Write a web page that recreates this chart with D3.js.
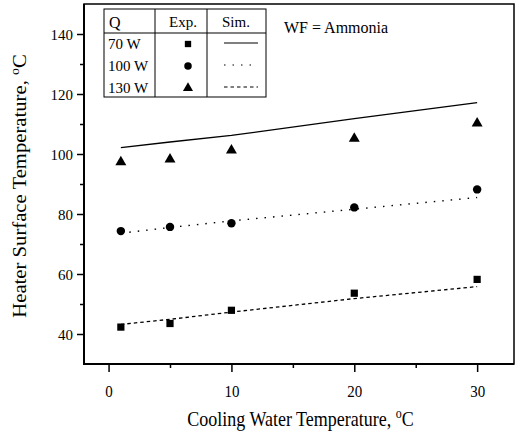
<!DOCTYPE html>
<html>
<head>
<meta charset="utf-8">
<script src="https://cdn.jsdelivr.net/npm/d3@7"></script>
<style>
  html, body { margin: 0; padding: 0; background: #fff; }
  svg { display: block; }
  text { font-family: "Liberation Serif", "Times New Roman", serif; fill: #000; }
</style>
</head>
<body>
<svg id="chart" width="516" height="435"></svg>
<script>
// ---- data ----
const coolingTemps = [1, 5, 10, 20, 30];
const exp70 = [42.3, 43.5, 47.9, 53.6, 58.2];
const exp100 = [74.3, 75.7, 76.9, 82.2, 88.2];
const exp130 = [97.3, 98.2, 101.2, 105.1, 110.2];
const simSolid = [102.1, 104.0, 106.2, 111.8, 117.1];
const simDotted = [73.6, 75.5, 77.7, 81.6, 85.5];
const simDashed = [43.2, 44.9, 47.3, 51.8, 55.8];
const xTicks = [0, 10, 20, 30];
const xMinorTicks = [5, 15, 25];
const yTicks = [40, 60, 80, 100, 120, 140];
const yMinorTicks = [50, 70, 90, 110, 130];
const legendRows = ["70 W", "100 W", "130 W"];

const svg = d3.select("#chart");
const pL = 84, pR = 514, pT = 4, pB = 364;
const x = d3.scaleLinear().domain([-2, 33]).range([pL, pR]);
const y = d3.scaleLinear().domain([30, 150]).range([pB, pT]);

// axes
const xAxis = svg.append("g").attr("transform", `translate(0,${pB})`)
  .call(d3.axisBottom(x).tickValues(xTicks).tickSize(8).tickFormat(d3.format("d")));
const xMinor = svg.append("g").attr("transform", `translate(0,${pB})`)
  .call(d3.axisBottom(x).tickValues(xMinorTicks).tickSize(4).tickFormat(""));
const yAxis = svg.append("g").attr("transform", `translate(${pL},0)`)
  .call(d3.axisLeft(y).tickValues(yTicks).tickSize(7).tickFormat(d3.format("d")));
const yMinor = svg.append("g").attr("transform", `translate(${pL},0)`)
  .call(d3.axisLeft(y).tickValues(yMinorTicks).tickSize(4).tickFormat(""));
[xAxis, xMinor, yAxis, yMinor].forEach(g => {
  g.select(".domain").remove();
  g.selectAll(".tick line").attr("stroke", "#000").attr("stroke-width", 1.5);
  g.selectAll(".tick text").style("font-family", "Liberation Serif").style("font-size", "15px").attr("fill", "#000");
});
xAxis.selectAll(".tick text").attr("y", null).attr("dy", null)
  .attr("transform", "translate(0,33) scale(1,1.12)");
yAxis.selectAll(".tick text").attr("x", null).attr("dy", null)
  .attr("transform", "translate(-11,5) scale(1,1.03)");

// frame
svg.append("rect").attr("x", pL).attr("y", pT).attr("width", pR - pL).attr("height", pB - pT)
  .attr("fill", "none").attr("stroke", "#000").attr("stroke-width", 1.5);
svg.append("line").attr("x1", pL).attr("x2", pL).attr("y1", pT).attr("y2", pB + 1)
  .attr("stroke", "#000").attr("stroke-width", 2);
svg.append("line").attr("x1", pL - 1).attr("x2", pR).attr("y1", pB).attr("y2", pB)
  .attr("stroke", "#000").attr("stroke-width", 2);

// sim lines
const line = d3.line().x((d, i) => x(coolingTemps[i])).y(d => y(d));
svg.append("path").datum(simSolid).attr("d", line).attr("fill", "none").attr("stroke", "#000").attr("stroke-width", 1.3);
svg.append("path").datum(simDotted).attr("d", line).attr("fill", "none").attr("stroke", "#000").attr("stroke-width", 1.4).attr("stroke-dasharray", "1.5,7");
svg.append("path").datum(simDashed).attr("d", line).attr("fill", "none").attr("stroke", "#000").attr("stroke-width", 1.3).attr("stroke-dasharray", "3.5,3");

// markers
const sq = d3.symbol().type(d3.symbolSquare).size(52);
const ci = d3.symbol().type(d3.symbolCircle).size(56);
const tr = d3.symbol().type(d3.symbolTriangle).size(52);
function markers(vals, sym) {
  svg.append("g").selectAll("path").data(vals).join("path")
    .attr("transform", (d, i) => `translate(${x(coolingTemps[i])},${y(d)})`)
    .attr("d", sym).attr("fill", "#000");
}
markers(exp70, sq);
markers(exp100, ci);
markers(exp130, tr);

// axis titles
const xt = svg.append("text").attr("transform", "translate(300.5,426) scale(1,1.15)").attr("text-anchor", "middle")
  .style("font-size", "18px");
xt.append("tspan").text("Cooling Water Temperature, ");
xt.append("tspan").text("o").attr("dy", -7).style("font-size", "12px");
xt.append("tspan").text("C").attr("dy", 7);

const yt = svg.append("text").attr("transform", "translate(26,186) rotate(-90) scale(1.15,1)").attr("text-anchor", "middle")
  .style("font-size", "18px");
yt.append("tspan").text("Heater Surface Temperature, ");
yt.append("tspan").text("o").attr("dy", -7).style("font-size", "12px");
yt.append("tspan").text("C").attr("dy", 7);

// WF text
svg.append("text").attr("transform", "translate(284,33) scale(1,1.08)").style("font-size", "16px").text("WF = Ammonia");

// legend table
const lg = svg.append("g");
const lx0 = 104, lx1 = 155, lx2 = 207, lx3 = 266, ly0 = 9, ly1 = 33, ly2 = 97;
lg.append("rect").attr("x", lx0).attr("y", ly0).attr("width", lx3 - lx0).attr("height", ly2 - ly0)
  .attr("fill", "#fff").attr("stroke", "#000").attr("stroke-width", 1);
[lx1, lx2].forEach(cx => lg.append("line").attr("x1", cx).attr("x2", cx).attr("y1", ly0).attr("y2", ly2).attr("stroke", "#000"));
lg.append("line").attr("x1", lx0).attr("x2", lx3).attr("y1", ly1).attr("y2", ly1).attr("stroke", "#000");
lg.append("text").attr("x", 109).attr("y", 28).style("font-size", "16px").text("Q");
lg.append("text").attr("x", 183).attr("y", 27).attr("text-anchor", "middle").style("font-size", "15px").text("Exp.");
lg.append("text").attr("x", 236).attr("y", 27).attr("text-anchor", "middle").style("font-size", "15px").text("Sim.");
const rowY = [44, 66, 88];
legendRows.forEach((r, i) => {
  lg.append("text").attr("x", 108).attr("y", rowY[i] + 4.5).style("font-size", "15px").text(r);
});
const legSyms = [d3.symbol().type(d3.symbolSquare).size(40), d3.symbol().type(d3.symbolCircle).size(44), d3.symbol().type(d3.symbolTriangle).size(44)];
legSyms.forEach((s, i) => lg.append("path").attr("transform", `translate(188,${rowY[i]})`).attr("d", s).attr("fill", "#000"));
const dashes = [null, "1.5,7", "3.5,3"];
dashes.forEach((da, i) => {
  const l = lg.append("line").attr("x1", 224).attr("x2", 258).attr("y1", rowY[i] - 1).attr("y2", rowY[i] - 1)
    .attr("stroke", "#000").attr("stroke-width", 1.2);
  if (da) l.attr("stroke-dasharray", da);
});
</script>
</body>
</html>
